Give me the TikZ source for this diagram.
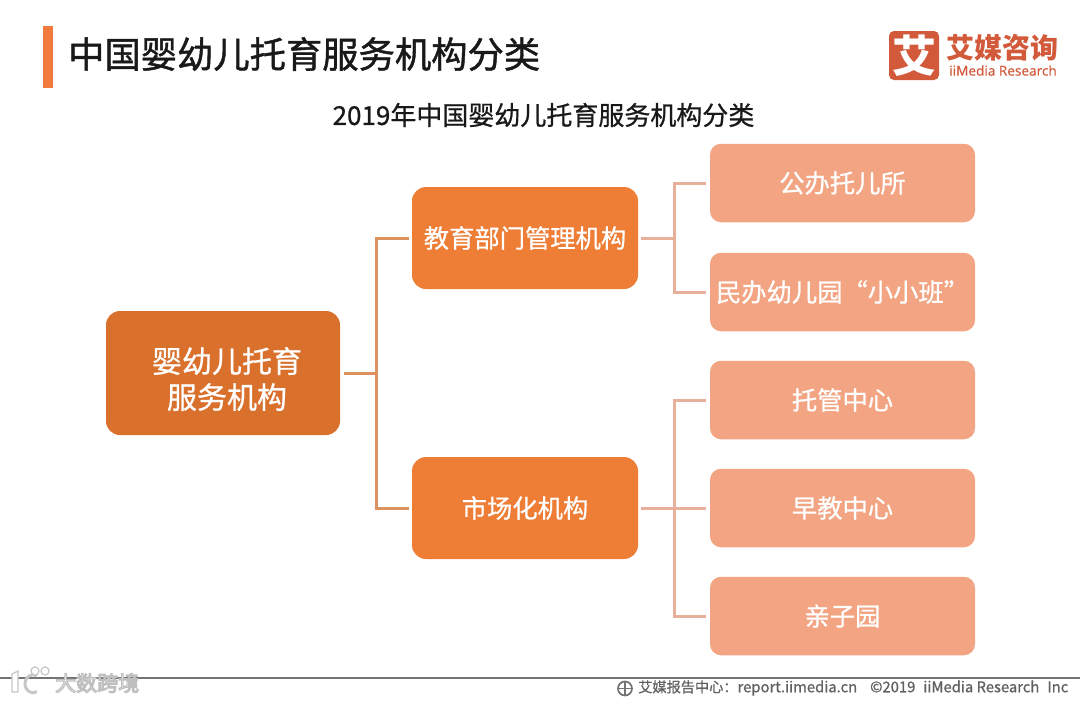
\documentclass[tikz,border=0pt]{standalone}
\usepackage{fontspec}
\setmainfont{Noto Sans CJK SC}
\newfontfamily\cjk{Noto Sans CJK SC}
\newfontfamily\cjkm[FakeBold=1.2]{Noto Sans CJK SC}
\newfontfamily\cjks[FakeBold=0.8]{Noto Sans CJK SC}
\newfontfamily\latinlogo[FakeBold=0.5]{Open Sans}
\newcommand{\fpx}[1]{\fontsize{#1}{#1}\selectfont}
\definecolor{rootc}{HTML}{D9712C}
\definecolor{midc}{HTML}{EE7D35}
\definecolor{leafc}{HTML}{F3A583}
\definecolor{rootl}{HTML}{DD9260}
\definecolor{leafl}{HTML}{E8B09A}
\definecolor{logoc}{HTML}{D2593A}
\definecolor{barc}{HTML}{F07A3E}
\tikzset{
  box/.style={rounded corners=14pt,inner sep=0pt,text=white,align=center},
  rootbox/.style={box,fill=rootc,minimum width=234pt,minimum height=124pt,font=\cjks\fpx{30}},
  midbox/.style={box,fill=midc,minimum width=226pt,minimum height=102pt,font=\cjks\fpx{25.3}},
  leafbox/.style={box,rounded corners=11pt,fill=leafc,minimum width=265pt,minimum height=78.5pt,font=\cjks\fpx{25.3}},
  rootlink/.style={draw=rootl,line width=3pt},
  leaflink/.style={draw=leafl,line width=3pt},
}
\begin{document}
\begin{tikzpicture}[x=1pt,y=-1pt]
\useasboundingbox (0,0) rectangle (1080,702);
\fill[white] (0,0) rectangle (1080,702);
% title
\fill[barc] (43,26) rectangle (53,88);
\node[anchor=west,inner sep=0pt,text=black!90,font=\cjkm\fpx{36.3}] (title) at (68,54) {中国婴幼儿托育服务机构分类};
\node[anchor=center,inner sep=0pt,text=black!90,font=\cjks\fpx{26}] (subtitle) at (543.5,115) {2019年中国婴幼儿托育服务机构分类};
% logo
\node[fill=logoc,rounded corners=5pt,minimum width=50pt,minimum height=49pt,inner sep=0pt,text=white,font=\cjk\bfseries\fpx{44}] (logomark) at (914,55.5) {艾};
\node[anchor=center,inner sep=0pt,text=logoc,font=\cjk\bfseries\fpx{28}] (logotext) at (1002,47.5) {艾媒咨询};
\node[anchor=center,inner sep=0pt,text=logoc,font=\latinlogo\fpx{13.6}] (logosub) at (1003,70.5) {iiMedia Research};
% boxes
\node[rootbox] (root) at (223,373) {};
\node[font=\cjks\fpx{30},text=white,inner sep=0pt,align=center] (roottext) at (227,379) {婴幼儿托育\\[6pt]服务机构};
\node[midbox] (edu) at (525,238) {教育部门管理机构};
\node[midbox] (mkt) at (525,508) {市场化机构};
\node[leafbox] (l1) at (842.5,183) {公办托儿所};
\node[leafbox] (l2) at (842.5,292) {民办幼儿园“小小班”};
\node[leafbox] (l3) at (842.5,400) {托管中心};
\node[leafbox] (l4) at (842.5,508) {早教中心};
\node[leafbox] (l5) at (842.5,616) {亲子园};
% connectors
\coordinate (j0) at (376,373);
\coordinate (j1) at (674,238);
\coordinate (j2) at (674,508);
\draw[rootlink] ([xshift=4pt]root.east) -- (j0);
\draw[rootlink] ([xshift=-3pt]edu.west) -| (j0) |- ([xshift=-3pt]mkt.west);
\draw[leaflink] ([xshift=3pt]edu.east) -- (j1);
\draw[leaflink] ([xshift=-4pt]l1.west) -| (j1) |- ([xshift=-4pt]l2.west);
\draw[leaflink] ([xshift=3pt]mkt.east) -- (j2);
\draw[leaflink] ([xshift=-4pt]l3.west) -| (j2) |- ([xshift=-4pt]l5.west);
\draw[leaflink] (j2) -- ([xshift=-4pt]l4.west);
% footer
\draw[draw=black!55,line width=1.6pt] (0,678) -- (1080,678);
\begin{scope}[draw=black!55,line width=1.7pt]
\draw (625,688.5) circle (7pt);
\draw[line width=1.3pt] (618,688.5) -- (632,688.5) (625,681.5) -- (625,695.5);
\end{scope}
\node[anchor=west,inner sep=0pt,text=black!62,font=\cjks\fpx{14.2}] (footer) at (638,688) {艾媒报告中心：{\fpx{14.8}report.iimedia.cn\hspace{13pt}©2019\hspace{8pt}iiMedia Research\hspace{8pt}Inc}};
% watermark
\begin{scope}[draw=black!22,fill=white,line width=1.2pt]
\filldraw (12,674) -- (18,671) -- (18,692) -- (12,692) -- cycle;
\draw[line width=3pt] (37,676) arc (60:300:8pt and 9pt);
\filldraw (35,671) circle (4pt);
\filldraw (45,671) circle (4pt);
\end{scope}
\node[anchor=west,inner sep=0pt,font=\cjk\fpx{21},text=white] (wm) at (55,683) {\special{pdf:code q 2 Tr 1.1 w 0.75 G 1 g}大数跨境\special{pdf:code Q}};
\end{tikzpicture}
\end{document}
